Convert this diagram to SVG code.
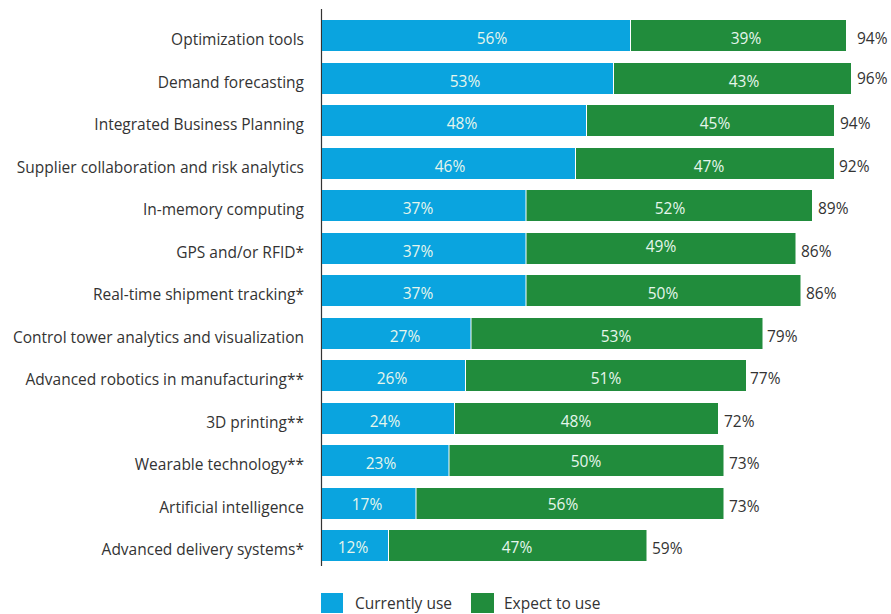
<svg xmlns="http://www.w3.org/2000/svg" width="891" height="614" viewBox="0 0 891 614">
<style>
text{font-family:"Open Sans","Liberation Sans",sans-serif;font-size:15.5px}
.cat{fill:#333;text-anchor:end}
.in{fill:#e6f6ec;text-anchor:middle}
.tot{fill:#333}
.b{fill:#0aa4df}
.g{fill:#218c3c}
.leg{fill:#333}
</style>
<rect width="891" height="614" fill="#fff"/>
<g id="axis"><line x1="321.5" y1="9" x2="321.5" y2="566" stroke="#333" stroke-width="1.2"/></g>
<g id="row1"><text class="cat" x="304" y="45">Optimization tools</text><rect class="b" x="322" y="20" width="308" height="31"/><rect class="g" x="631" y="20" width="215" height="31"/><text class="in" x="492" y="44">56%</text><text class="in" x="746" y="44">39%</text><text class="tot" x="857" y="44">94%</text></g>
<g id="row2"><text class="cat" x="304" y="88">Demand forecasting</text><rect class="b" x="322" y="63" width="291" height="31"/><rect class="g" x="614" y="63" width="237" height="31"/><text class="in" x="465" y="87">53%</text><text class="in" x="744" y="87">43%</text><text class="tot" x="857" y="84">96%</text></g>
<g id="row3"><text class="cat" x="304" y="130">Integrated Business Planning</text><rect class="b" x="322" y="105" width="264" height="31"/><rect class="g" x="587" y="105" width="247" height="31"/><text class="in" x="462" y="129">48%</text><text class="in" x="715" y="129">45%</text><text class="tot" x="840" y="129">94%</text></g>
<g id="row4"><text class="cat" x="304" y="173">Supplier collaboration and risk analytics</text><rect class="b" x="322" y="148" width="253" height="31"/><rect class="g" x="576" y="148" width="258" height="31"/><text class="in" x="450" y="172">46%</text><text class="in" x="709" y="172">47%</text><text class="tot" x="839" y="172">92%</text></g>
<g id="row5"><text class="cat" x="304" y="215">In-memory computing</text><rect class="b" x="322" y="190" width="203.5" height="31"/><rect class="g" x="526.5" y="190" width="285.5" height="31"/><text class="in" x="418" y="214">37%</text><text class="in" x="670" y="214">52%</text><text class="tot" x="818" y="214">89%</text></g>
<g id="row6"><text class="cat" x="304" y="258">GPS and/or RFID*</text><rect class="b" x="322" y="233" width="203.5" height="31"/><rect class="g" x="526.5" y="233" width="269" height="31"/><text class="in" x="418" y="257">37%</text><text class="in" x="661" y="252">49%</text><text class="tot" x="801" y="257">86%</text></g>
<g id="row7"><text class="cat" x="304" y="300">Real-time shipment tracking*</text><rect class="b" x="322" y="275" width="203.5" height="31"/><rect class="g" x="526.5" y="275" width="274" height="31"/><text class="in" x="418" y="299">37%</text><text class="in" x="663" y="299">50%</text><text class="tot" x="806" y="299">86%</text></g>
<g id="row8"><text class="cat" x="304" y="343">Control tower analytics and visualization</text><rect class="b" x="322" y="318" width="148.5" height="31"/><rect class="g" x="471.5" y="318" width="291" height="31"/><text class="in" x="405" y="342">27%</text><text class="in" x="616" y="342">53%</text><text class="tot" x="767" y="342">79%</text></g>
<g id="row9"><text class="cat" x="304" y="385">Advanced robotics in manufacturing**</text><rect class="b" x="322" y="360" width="143" height="31"/><rect class="g" x="466" y="360" width="280" height="31"/><text class="in" x="392" y="384">26%</text><text class="in" x="606" y="384">51%</text><text class="tot" x="750" y="384">77%</text></g>
<g id="row10"><text class="cat" x="304" y="428">3D printing**</text><rect class="b" x="322" y="403" width="132" height="31"/><rect class="g" x="455" y="403" width="263" height="31"/><text class="in" x="385" y="427">24%</text><text class="in" x="576" y="427">48%</text><text class="tot" x="724" y="427">72%</text></g>
<g id="row11"><text class="cat" x="304" y="470">Wearable technology**</text><rect class="b" x="322" y="445" width="126.5" height="31"/><rect class="g" x="449.5" y="445" width="274" height="31"/><text class="in" x="381" y="469">23%</text><text class="in" x="586" y="467">50%</text><text class="tot" x="729" y="469">73%</text></g>
<g id="row12"><text class="cat" x="304" y="513">Artificial intelligence</text><rect class="b" x="322" y="488" width="93.5" height="31"/><rect class="g" x="416.5" y="488" width="307" height="31"/><text class="in" x="367" y="510">17%</text><text class="in" x="563" y="510">56%</text><text class="tot" x="729" y="512">73%</text></g>
<g id="row13"><text class="cat" x="304" y="555">Advanced delivery systems*</text><rect class="b" x="322" y="530" width="66" height="31"/><rect class="g" x="389" y="530" width="257.5" height="31"/><text class="in" x="353" y="553">12%</text><text class="in" x="517" y="553">47%</text><text class="tot" x="652" y="554">59%</text></g>
<g id="legend"><rect class="b" x="321" y="593" width="22" height="20"/><text class="leg" x="355" y="609">Currently use</text><rect class="g" x="471" y="593" width="23" height="20"/><text class="leg" x="504" y="609">Expect to use</text></g>
</svg>
